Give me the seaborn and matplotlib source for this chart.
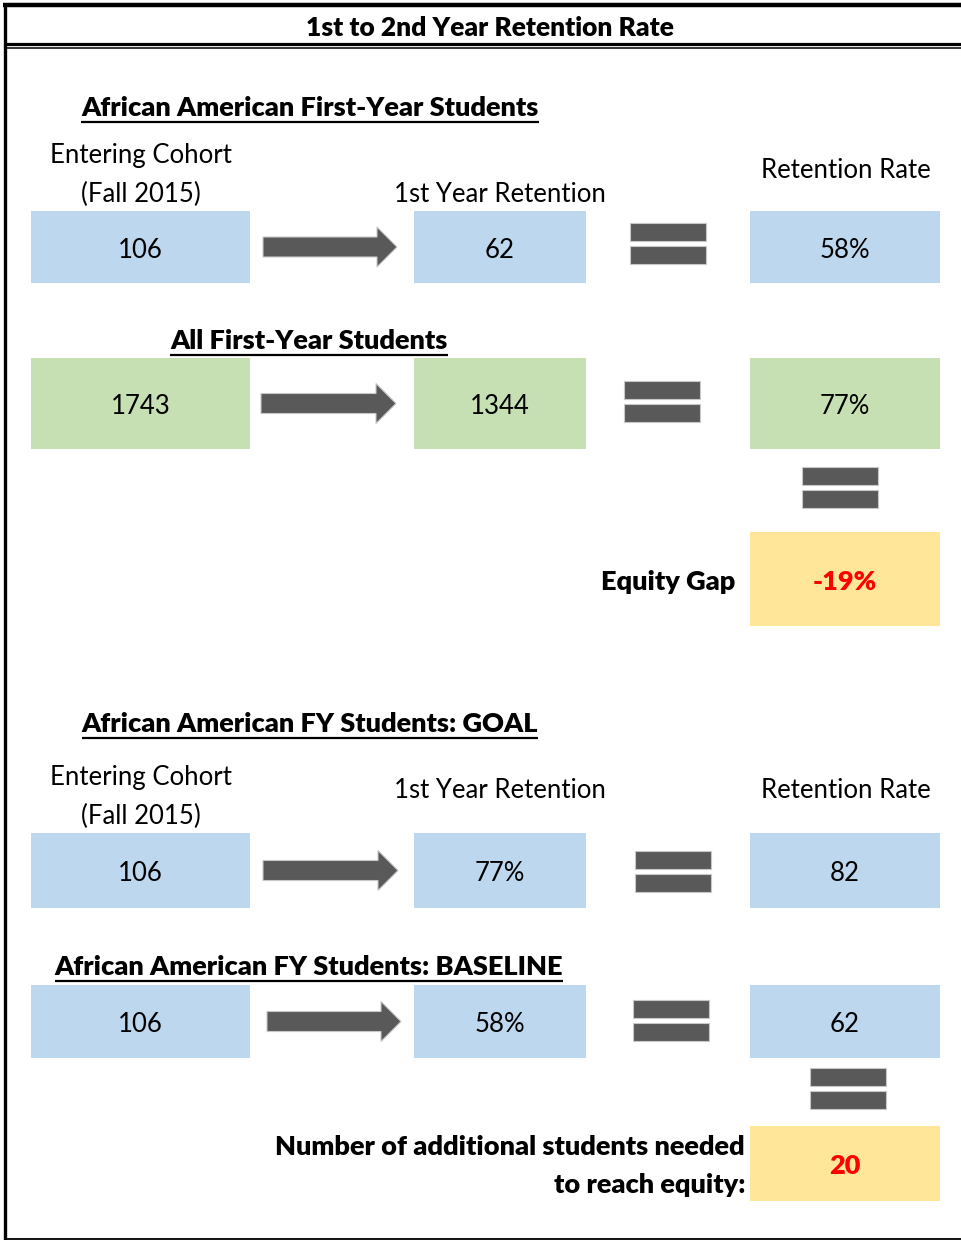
import matplotlib
matplotlib.use("Agg")
import matplotlib.pyplot as plt
from matplotlib.patches import Rectangle, Polygon
import seaborn as sns

# values shown in the boxes (4 rows: AA first-year, all first-year, AA goal, AA baseline)
cohort_vals = ["106", "1743", "106", "106"]
retained_vals = ["62", "1344", "77%", "58%"]
rate_vals = ["58%", "77%", "82", "62"]
equity_gap = "-19%"
students_needed = "20"

title = "1st to 2nd Year Retention Rate"
section_titles = ["African American First-Year Students", "All First-Year Students",
                  "African American FY Students: GOAL", "African American FY Students: BASELINE"]

sns.set_theme(style="white")
plt.rcParams["font.family"] = ["Lato", "DejaVu Sans"]
plt.rcParams["text.color"] = "black"

BLUE, GREEN, YELLOW = "#BDD7EE", "#C6E0B4", "#FFE699"
GRAY, RED = "#595959", "#FF0000"
row_colors = [BLUE, GREEN, BLUE, BLUE]
FS = 18.5      # regular text
FSB = 19.5     # bold text
DY = 3         # text baseline nudge

fig = plt.figure(figsize=(9.61, 12.40), dpi=100)
ax = fig.add_axes([0, 0, 1, 1])
ax.set_xlim(0, 961); ax.set_ylim(1240, 0); ax.axis("off")

# frame lines
ax.plot([3, 961], [5, 5], color="black", lw=3.2, solid_capstyle="butt")
ax.plot([4.5, 4.5], [3, 1240], color="black", lw=2.4, solid_capstyle="butt")
ax.plot([4.5, 961], [43.5, 43.5], color="black", lw=2.3, solid_capstyle="butt")
ax.plot([4.5, 961], [47.5, 47.5], color="black", lw=1.1, solid_capstyle="butt")
ax.plot([4.5, 961], [1238.5, 1238.5], color="black", lw=1.3, solid_capstyle="butt")

ax.text(490, 25 + DY, title, ha="center", va="center", fontsize=19, fontweight="heavy")

underlines = []


def heading(x, y, s):
    t = ax.text(x, y + DY, s, ha="center", va="center", fontsize=FSB, fontweight="heavy")
    underlines.append((t, y + 14))


def arrow(x0, x1, yc):
    pts = [(x0, yc - 10), (x1 - 20, yc - 10), (x1 - 20, yc - 20), (x1, yc),
           (x1 - 20, yc + 20), (x1 - 20, yc + 10), (x0, yc + 10)]
    ax.add_patch(Polygon(pts, closed=True, facecolor=GRAY, edgecolor="#C8C8C8", lw=0.8))


def equals(x0, y0):
    for dy in (0, 23):
        ax.add_patch(Rectangle((x0, y0 + dy), 76, 18, facecolor=GRAY, edgecolor="#C8C8C8", lw=0.8))


def box(x0, x1, y0, y1, fill, text, **kw):
    ax.add_patch(Rectangle((x0, y0), x1 - x0, y1 - y0, facecolor=fill, edgecolor="none"))
    ax.text((x0 + x1) / 2, (y0 + y1) / 2 + DY, text, ha="center", va="center", **kw)


def label(x, y, s, **kw):
    ax.text(x, y + DY, s, ha="center", va="center", fontsize=FS, **kw)


# row layout: (box top, box bottom, arrow x0, arrow x1, equals x, equals top)
rows = [(211, 283, 263, 397, 630, 223),
        (358, 449, 261, 396, 624, 381),
        (833, 908, 263, 398, 635, 851),
        (985, 1058, 267, 401, 633, 1000)]

heading(310, 105, section_titles[0])
label(141, 153, "Entering Cohort"); label(141, 191, "(Fall 2015)")
label(500, 192, "1st Year Retention"); label(846, 168, "Retention Rate")
heading(309, 338, section_titles[1])
heading(310, 721, section_titles[2])
label(141, 775, "Entering Cohort"); label(141, 813, "(Fall 2015)")
label(500, 787, "1st Year Retention"); label(846, 787, "Retention Rate")
heading(309, 964, section_titles[3])

for i, (y0, y1, a0, a1, ex, ey) in enumerate(rows):
    c = row_colors[i]
    box(31, 250, y0, y1, c, cohort_vals[i], fontsize=FS)
    box(414, 586, y0, y1, c, retained_vals[i], fontsize=FS)
    box(750, 940, y0, y1, c, rate_vals[i], fontsize=FS)
    arrow(a0, a1, (y0 + y1) / 2)
    equals(ex, ey)

equals(802, 467)
box(750, 940, 532, 626, YELLOW, equity_gap, color=RED, fontsize=FSB, fontweight="heavy")
ax.text(735, 579 + DY, "Equity Gap", ha="right", va="center", fontsize=FSB, fontweight="heavy")

equals(810, 1068)
box(750, 940, 1126, 1201, YELLOW, students_needed, color=RED, fontsize=FSB, fontweight="heavy")
ax.text(745, 1144 + DY, "Number of additional students needed", ha="right", va="center",
        fontsize=FSB, fontweight="heavy")
ax.text(745, 1182 + DY, "to reach equity:", ha="right", va="center", fontsize=FSB, fontweight="heavy")

# underline headings using their rendered extents
fig.canvas.draw()
r = fig.canvas.get_renderer()
inv = ax.transData.inverted()
for t, yu in underlines:
    bb = t.get_window_extent(renderer=r)
    (xa, _), (xb, _) = inv.transform([(bb.x0, bb.y0), (bb.x1, bb.y1)])
    ax.plot([xa, xb], [yu + DY, yu + DY], color="black", lw=1.6, solid_capstyle="butt")

fig.savefig("out.png", dpi=100)
